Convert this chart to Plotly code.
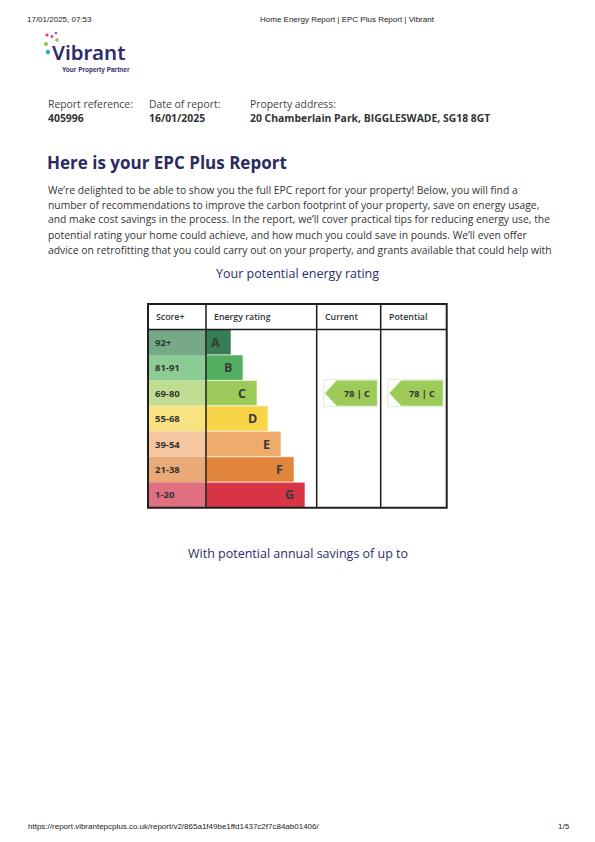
import plotly.graph_objects as go

# ---------------- data ----------------
ratings = ["A", "B", "C", "D", "E", "F", "G"]
score_bands = ["92+", "81-91", "69-80", "55-68", "39-54", "21-38", "1-20"]
band_min = [92, 81, 69, 55, 39, 21, 1]
bar_lengths = [25, 37, 51, 62, 75, 88, 99]
bar_colors = ["#367d53", "#53af60", "#9ccb58", "#f7d448", "#efab6c", "#e0853b", "#d73445"]
band_colors = ["#76a98a", "#8dcb94", "#bfdd90", "#f9e282", "#f5c6a0", "#eaaa78", "#e0707f"]
current_score = 78
potential_score = 78
headers = ["Score+", "Energy rating", "Current", "Potential"]

# page is shown with the browser's default 8px body margin
OFF = 8
W, H = 595 - 2 * OFF, 842 - 2 * OFF
def px(x):
    return (x - OFF) / W
def py(y):
    return 1 - (y - OFF) / H

NAVY = "#2b2a5e"
TXT = "#333333"
BODY_FONT = "Open Sans"

def row_of(score):
    for i, m in enumerate(band_min):
        if score >= m:
            return i
    return len(band_min) - 1

fig = go.Figure()
idx = list(range(len(ratings)))

# score band column
fig.add_trace(go.Bar(x=[1] * len(ratings), y=idx, orientation="h", width=1,
                     marker=dict(color=band_colors, line=dict(width=0)),
                     xaxis="x", yaxis="y", hoverinfo="skip", showlegend=False))
# rating bars
fig.add_trace(go.Bar(x=bar_lengths, y=idx, orientation="h", width=1,
                     marker=dict(color=bar_colors, line=dict(width=0.6, color="white")),
                     xaxis="x2", yaxis="y", hoverinfo="skip", showlegend=False))

annotations = []
shapes = []

for i in idx:
    annotations.append(dict(x=0, y=i, xref="x", yref="y", text="<b>%s</b>" % score_bands[i],
                            xanchor="left", yanchor="middle", xshift=5, showarrow=False,
                            font=dict(family=BODY_FONT, size=9.5, color=TXT)))
    annotations.append(dict(x=bar_lengths[i], y=i, xref="x2", yref="y", text="<b>%s</b>" % ratings[i],
                            xanchor="right", yanchor="middle", xshift=-9, showarrow=False,
                            font=dict(family=BODY_FONT, size=12.5, color="#3a3a3a")))

# current / potential arrows
for score, xa_name in [(current_score, "x3"), (potential_score, "x4")]:
    r = row_of(score)
    tip, start, end = 0.13, 0.31, 0.94
    fig.add_trace(go.Scatter(x=[tip, start, end, end, start, tip],
                             y=[r, r - 0.5, r - 0.5, r + 0.5, r + 0.5, r],
                             mode="lines", fill="toself", fillcolor=bar_colors[r],
                             line=dict(width=0, color=bar_colors[r]),
                             xaxis=xa_name, yaxis="y", hoverinfo="skip", showlegend=False))
    shapes.append(dict(type="rect", xref=xa_name, yref="y", x0=0.11, x1=0.955, y0=r - 0.53, y1=r + 0.53,
                       line=dict(color="#e2ebd6", width=1), fillcolor="rgba(0,0,0,0)", layer="below"))
    annotations.append(dict(x=(start + end) / 2, y=r, xref=xa_name, yref="y",
                            text="<b>%d | %s</b>" % (score, ratings[r]),
                            xanchor="center", yanchor="middle", showarrow=False,
                            font=dict(family=BODY_FONT, size=9, color=TXT)))

# table geometry (page pixels)
TL, TR, TT, TB = 148, 446.7, 304, 507.7
HB = 329.5
cols = [148, 206, 316.7, 380.7, 446.7]
for xv in cols[1:-1]:
    shapes.append(dict(type="line", xref="paper", yref="paper", x0=px(xv), x1=px(xv),
                       y0=py(TT), y1=py(TB), line=dict(color="#1a1a1a", width=1.5)))
shapes.append(dict(type="line", xref="paper", yref="paper", x0=px(TL), x1=px(TR),
                   y0=py(HB), y1=py(HB), line=dict(color="#1a1a1a", width=1.5)))
shapes.append(dict(type="rect", xref="paper", yref="paper", x0=px(TL), x1=px(TR),
                   y0=py(TT), y1=py(TB), line=dict(color="#1f1f1f", width=2)))

for h, xv in zip(headers, cols[:-1]):
    annotations.append(dict(x=px(xv + 6), y=py(317), xref="paper", yref="paper", text=h,
                            xanchor="left", yanchor="middle", showarrow=False,
                            font=dict(family=BODY_FONT, size=8.8, color=TXT, weight=600)))

def txt(x, y, s, size, color=TXT, family=BODY_FONT, anchor="left", weight=400):
    annotations.append(dict(x=px(x), y=py(y), xref="paper", yref="paper", text=s,
                            xanchor=anchor, yanchor="middle", showarrow=False,
                            font=dict(family=family, size=size, color=color, weight=weight)))

# browser header / footer
txt(25, 19.5, "17/01/2025, 07:53", 8, "#222", "Liberation Sans")
txt(258, 19.5, "Home Energy Report | EPC Plus Report | Vibrant", 8, "#222", "Liberation Sans")
txt(26, 826, "https://report.vibrantepcplus.co.uk/report/v2/865a1f49be1ffd1437c2f7c84ab01406/", 8, "#222", "Liberation Sans")
txt(572, 826, "1/5", 8, "#222", "Liberation Sans", anchor="right")

# logo
txt(50, 51.5, "Vibrant", 20.5, "#2e2b6f", "Noto Sans", weight=600)
txt(60, 69.5, "Your Property Partner", 6.5, "#2e2b6f", "Liberation Sans", weight=600)
for (cx, cy, col, r) in [(47, 35, "#e6308a", 1.6), (52, 36.5, "#e6308a", 1.4), (56, 33, "#8b5ca8", 1.3),
                          (57, 40, "#8dc63f", 1.8), (46, 44, "#8dc63f", 2.0), (48, 52, "#29a9e0", 2.2)]:
    shapes.append(dict(type="circle", xref="paper", yref="paper", x0=px(cx - r), x1=px(cx + r),
                       y0=py(cy + r), y1=py(cy - r), fillcolor=col, line=dict(width=0)))

# report details
txt(46, 104, "Report reference:", 10.4, "#444")
txt(46, 118, "<b>405996</b>", 10.4, TXT)
txt(147, 104, "Date of report:", 10.4, "#444")
txt(147, 118, "<b>16/01/2025</b>", 10.4, TXT)
txt(248, 104, "Property address:", 10.4, "#444")
txt(248, 118, "<b>20 Chamberlain Park, BIGGLESWADE, SG18 8GT</b>", 10.4, TXT)

# title + paragraph
txt(45, 163, "<b>Here is your EPC Plus Report</b>", 17, NAVY)
para = [
    "We’re delighted to be able to show you the full EPC report for your property! Below, you will find a",
    "number of recommendations to improve the carbon footprint of your property, save on energy usage,",
    "and make cost savings in the process. In the report, we’ll cover practical tips for reducing energy use, the",
    "potential rating your home could achieve, and how much you could save in pounds. We’ll even offer",
    "advice on retrofitting that you could carry out on your property, and grants available that could help with",
]
for k, line in enumerate(para):
    txt(46, 189.5 + 15 * k, line, 10.35, TXT)

txt(297.5, 273, "Your potential energy rating", 12.5, "#2e2d6b", anchor="center", weight=500)
txt(297.5, 553, "With potential annual savings of up to", 12.5, "#2e2d6b", anchor="center", weight=500)

ydom = [py(TB), py(HB)]
def xa(lo, hi, rng):
    return dict(domain=[px(lo), px(hi)], range=rng, visible=False, fixedrange=True)

fig.update_layout(
    width=W, height=H, margin=dict(l=0, r=0, t=0, b=0),
    paper_bgcolor="white", plot_bgcolor="rgba(0,0,0,0)",
    barmode="overlay", showlegend=False,
    xaxis=xa(148, 206, [0, 1]),
    xaxis2=dict(xa(206, 316.7, [0, 110.7]), anchor="y"),
    xaxis3=dict(xa(316.7, 380.7, [0, 1]), anchor="y"),
    xaxis4=dict(xa(380.7, 446.7, [0, 1]), anchor="y"),
    yaxis=dict(domain=ydom, range=[6.5, -0.5], visible=False, fixedrange=True),
    shapes=shapes, annotations=annotations,
)

fig.write_html("out.html", config={"displayModeBar": False})
